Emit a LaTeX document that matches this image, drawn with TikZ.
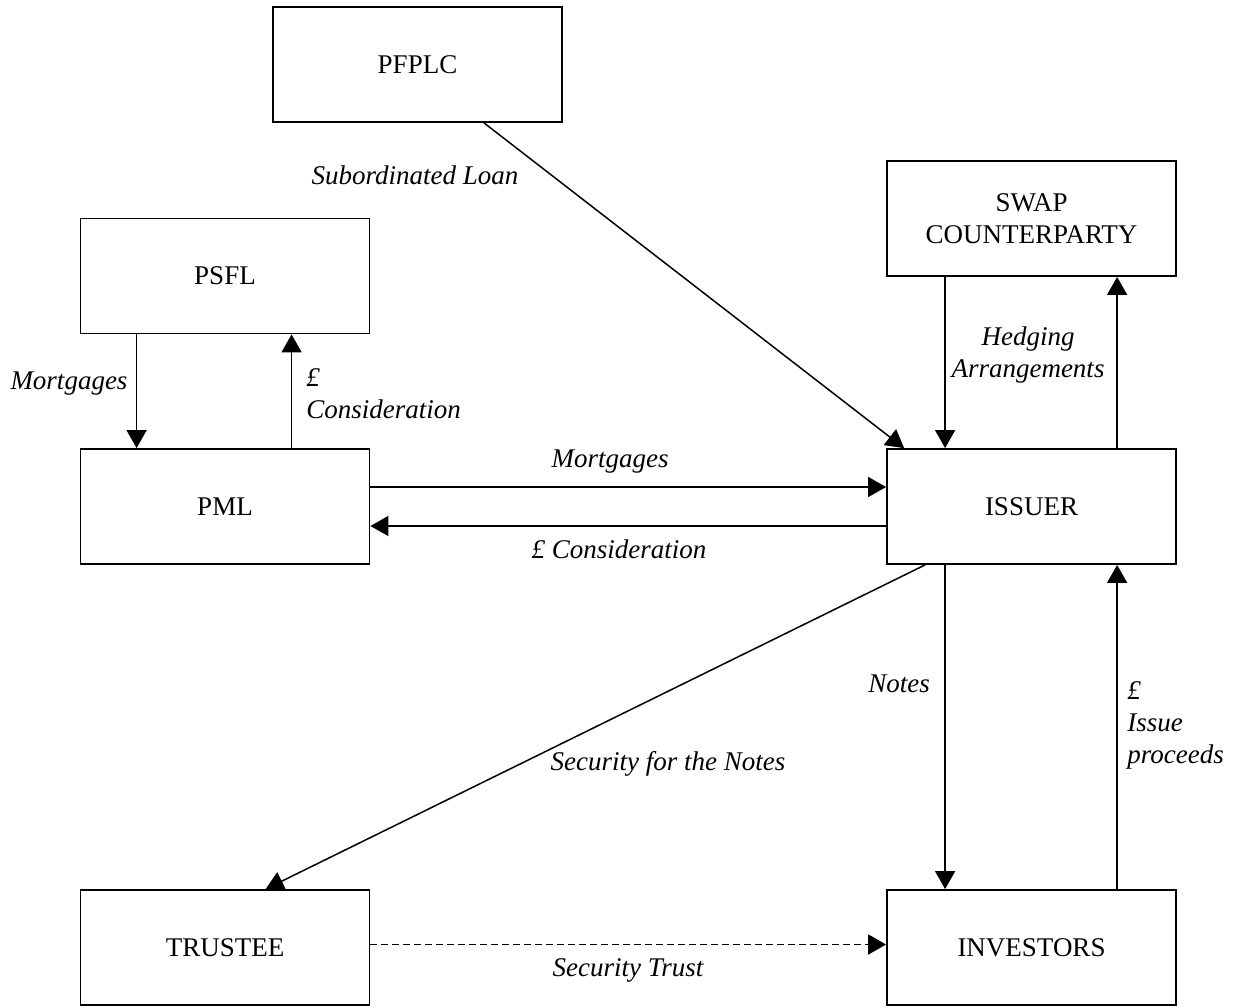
\documentclass[tikz,border=0pt]{standalone}
\usepackage{fontspec}
\setmainfont{Liberation Serif}
\usepackage{tikz}
\usetikzlibrary{arrows.meta}

\begin{document}
\begin{tikzpicture}[x=0.5pt,y=-0.5pt,
    font=\fontsize{13.5}{16}\selectfont,
    party/.style={draw,line width=0.9pt,minimum width=144.5pt,minimum height=57.5pt,align=center,inner sep=0pt},
    lbl/.style={font=\fontsize{13.5}{16}\selectfont\itshape,inner sep=0pt},
    flow/.style={line width=0.75pt,-{Triangle[length=9pt,width=10pt]}}]
  \useasboundingbox (0,0) rectangle (1235,1006);
  % parties
  \node[party] (pfplc) at (417.5,64.5) {PFPLC};
  \node[party] (psfl) at (225,276) {PSFL};
  \node[party] (swap) at (1031.5,218.5) {SWAP\\COUNTERPARTY};
  \node[party] (pml) at (225,506.5) {PML};
  \node[party] (issuer) at (1031.5,506.5) {ISSUER};
  \node[party] (trustee) at (225,947.5) {TRUSTEE};
  \node[party] (investors) at (1031.5,947.5) {INVESTORS};
  % flows
  \draw[flow] ([xshift=33.25pt]pfplc.south) -- ([xshift=9pt]issuer.north west);
  \draw[flow] ([xshift=28.5pt]psfl.south west) -- ([xshift=28.5pt]pml.north west);
  \draw[flow] ([xshift=106pt]pml.north west) -- ([xshift=106pt]psfl.south west);
  \draw[flow] ([xshift=29.5pt]swap.south west) -- ([xshift=29.5pt]issuer.north west);
  \draw[flow] ([xshift=115.5pt]issuer.north west) -- ([xshift=115.5pt]swap.south west);
  \draw[flow] ([yshift=9.75pt]pml.east) -- ([yshift=9.75pt]issuer.west);
  \draw[flow] ([yshift=-9.75pt]issuer.west) -- ([yshift=-9.75pt]pml.east);
  \draw[flow] ([xshift=29.5pt]issuer.south west) -- ([xshift=29.5pt]investors.north west);
  \draw[flow] ([xshift=115.5pt]investors.north west) -- ([xshift=115.5pt]issuer.south west);
  \draw[flow] ([xshift=19.5pt]issuer.south west) -- ([xshift=93pt]trustee.north west);
  \draw[flow,line width=0.9pt,dash pattern=on 3.5pt off 2pt] ([yshift=1.5pt]trustee.east) -- ([yshift=1.5pt]investors.west);
  % labels
  \node[lbl] (subloan) at (415,175) {Subordinated Loan};
  \node[lbl] (mortleft) at (69,384) {Mortgages};
  \node[lbl,align=left,anchor=west] (considleft) at (306,394) {\pounds\\Consideration};
  \node[lbl,align=center] (hedging) at (1028,355) {Hedging\\Arrangements};
  \node[lbl] (mortmid) at (610,462) {Mortgages};
  \node[lbl] (considmid) at (619,549) {\pounds{} Consideration};
  \node[lbl] (notes) at (899,684) {Notes};
  \node[lbl,align=left,anchor=west] (proceeds) at (1127,725) {\pounds\\Issue\\proceeds};
  \node[lbl] (secnotes) at (668,764) {Security for the Notes};
  \node[lbl] (sectrust) at (628,970) {Security Trust};
\end{tikzpicture}
\end{document}
